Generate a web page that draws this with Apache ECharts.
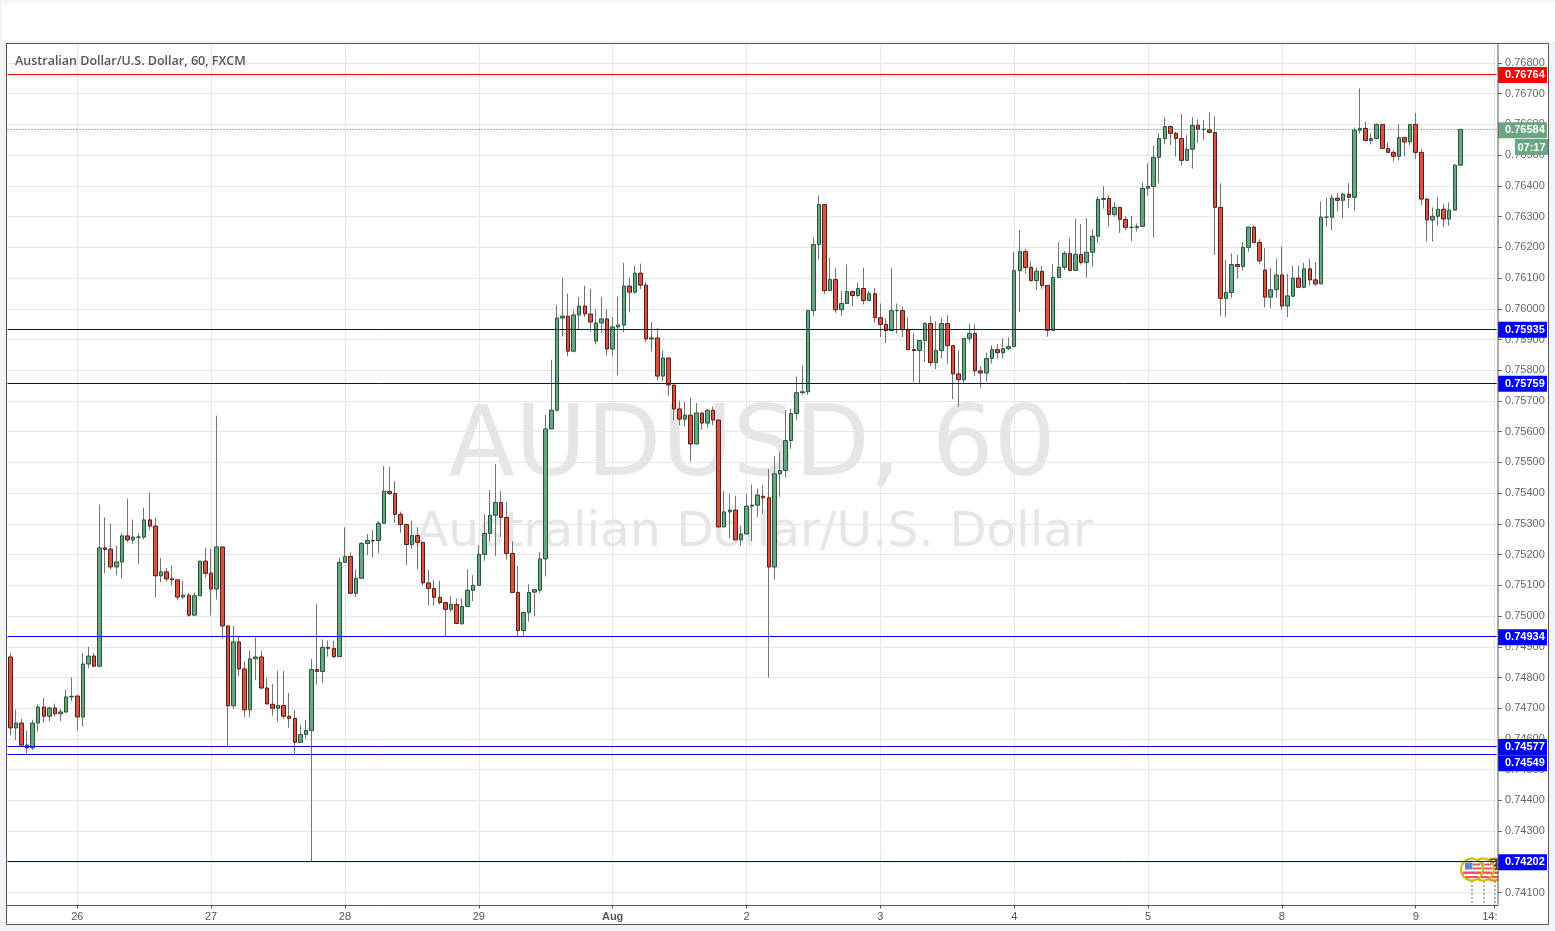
<!DOCTYPE html>
<html>
<head>
<meta charset="utf-8">
<style>html,body{margin:0;padding:0;background:#f1f5f8}#c{width:1555px;height:931px}</style>
<script src="https://cdn.jsdelivr.net/npm/echarts@6/dist/echarts.min.js"></script>
</head>
<body>
<div id="c"></div>
<script>
// prices in units of 0.00001
const opens = [74867,74636,74652,74580,74571,74652,74704,74674,74701,74682,74688,74737,74740,74672,74844,74870,74837,75222,75218,75160,
75176,75261,75248,75257,75257,75313,75293,75131,75144,75121,75118,75062,75068,75003,75066,75179,75140,75088,75225,74968,
74708,74916,74828,74695,74861,74867,74766,74713,74700,74709,74674,74667,74589,74615,74628,74826,74820,74898,74895,74868,
75175,75194,75074,75123,75236,75246,75246,75302,75406,75399,75331,75298,75233,75262,75240,75108,75090,75061,75044,75022,
75038,74975,75031,75084,75100,75201,75269,75328,75370,75321,75204,75077,74953,75012,75078,75084,75186,75609,75670,75970,
75976,75862,75980,76009,75983,75895,75954,75967,75869,75941,75947,76074,76054,76116,76077,75902,75905,75781,75840,75752,
75674,75641,75654,75560,75661,75628,75670,75638,75290,75339,75345,75248,75267,75358,75361,75390,75385,75160,75463,75474,
75571,75659,75727,75730,75994,76209,76339,76059,76095,75997,76017,76056,76043,76066,76027,76049,75971,75949,75929,75994,
75994,75932,75867,75864,75897,75952,75825,75864,75952,75880,75788,75769,75904,75920,75798,75791,75838,75867,75857,75870,
75877,76124,76186,76135,76092,76122,76076,75930,76102,76135,76180,76125,76177,76151,76184,76236,76356,76359,76307,76330,
76291,76265,76265,76268,76392,76398,76493,76554,76593,76571,76554,76483,76519,76597,76584,76582,76574,76330,76034,76053,
76144,76138,76200,76266,76216,76126,76038,76062,76110,76009,76041,76100,76070,76130,76094,76081,76298,76298,76360,76353,
76373,76363,76581,76587,76548,76554,76600,76522,76509,76496,76557,76543,76600,76509,76357,76289,76301,76324,76292,76321,
76467];
const highs = [74880,74696,74665,74627,74663,74712,74734,74705,74715,74698,74761,74800,74740,74880,74900,74880,75363,75321,75301,75229,
75270,75382,75314,75270,75353,75402,75320,75189,75157,75164,75118,75115,75075,75077,75179,75223,75220,75652,75225,74968,
74969,74936,74852,74888,74930,74888,74797,74779,74821,74821,74750,74693,74645,74662,74860,75039,74924,74920,74920,75189,
75289,75207,75152,75241,75267,75280,75309,75488,75485,75439,75340,75298,75310,75289,75240,75150,75117,75114,75044,75065,
75057,75057,75152,75133,75231,75332,75410,75495,75407,75370,75243,75163,75012,75104,75086,75208,75655,75834,76013,76101,
76049,75995,76039,76075,76065,75999,76039,75999,75973,76039,76150,76101,76140,76147,76088,75957,75938,75864,75840,75752,
75701,75697,75710,75693,75661,75674,75682,75638,75408,75398,75392,75294,75398,75428,75415,75426,75478,75520,75533,75670,
75675,75780,75816,75994,76232,76369,76339,76167,76134,76058,76144,76056,76085,76134,76058,76068,76017,75968,76134,76017,
76008,75972,75922,75897,75957,75976,75959,75969,75979,75880,75864,75904,75952,75949,75813,75857,75881,75886,75904,75907,
76184,76256,76196,76154,76135,76139,76076,76146,76217,76188,76230,76292,76276,76296,76258,76366,76399,76370,76347,76330,
76301,76302,76278,76411,76473,76532,76571,76623,76593,76576,76634,76565,76623,76617,76614,76639,76627,76408,76159,76180,
76175,76217,76266,76270,76227,76198,76133,76163,76203,76113,76140,76140,76149,76161,76152,76348,76362,76370,76376,76378,
76410,76590,76717,76610,76570,76603,76600,76541,76516,76600,76560,76600,76638,76519,76360,76330,76364,76341,76346,76471,
76584];
const lows = [74612,74596,74574,74552,74563,74625,74654,74658,74674,74658,74684,74723,74628,74641,74830,74833,74833,75139,75152,75133,
75123,75240,75234,75169,75250,75281,75061,75110,75113,75100,75051,75055,74998,75003,75066,75125,75002,75054,74926,74576,
74697,74804,74671,74671,74791,74762,74714,74676,74656,74666,74637,74551,74589,74601,74202,74777,74783,74868,74864,74868,
75175,75074,75062,75123,75198,75190,75205,75302,75394,75304,75271,75166,75219,75153,75099,75034,75034,75038,74933,75014,
74976,74972,75031,75049,75100,75180,75240,75196,75258,75184,75077,74931,74931,74982,75000,75075,75129,75609,75666,75910,
75845,75858,75934,75973,75924,75884,75921,75847,75845,75783,75923,75988,76049,76064,75891,75861,75767,75764,75716,75637,
75621,75617,75503,75560,75606,75612,75621,75290,75290,75254,75248,75229,75267,75245,75323,75334,74800,75118,75388,75450,
75544,75638,75722,75720,75977,76161,76048,76059,75987,75977,76017,76009,76039,76014,76027,75955,75908,75889,75929,75919,
75908,75867,75762,75757,75827,75814,75804,75838,75821,75706,75681,75757,75892,75782,75743,75762,75822,75838,75838,75865,
75877,75989,76115,76088,76061,76065,75909,75930,76102,76126,76125,76125,76144,76101,76137,76215,76326,76267,76300,76247,
76256,76221,76251,76268,76368,76231,76408,76535,76533,76495,76466,76483,76456,76540,76549,76571,76175,75977,75974,76036,
76097,76124,76186,76216,76145,76005,76002,76035,75996,75973,76038,76068,76067,76074,76074,76081,76268,76255,76317,76294,
76327,76320,76570,76548,76535,76554,76519,76509,76479,76483,76496,76532,76488,76338,76219,76219,76271,76265,76271,76321,
76467];
const closes = [74636,74652,74580,74571,74652,74704,74674,74701,74682,74688,74737,74739,74672,74844,74870,74837,75222,75217,75160,75176,
75261,75248,75257,75257,75313,75293,75131,75144,75121,75118,75062,75068,75003,75066,75179,75139,75088,75225,74968,74708,
74916,74828,74695,74861,74867,74766,74714,74700,74709,74674,74667,74589,74615,74628,74826,74820,74898,74895,74868,75175,
75194,75074,75123,75236,75246,75245,75302,75406,75399,75331,75298,75233,75262,75240,75108,75090,75061,75044,75022,75038,
74976,75031,75084,75100,75201,75269,75328,75370,75321,75204,75077,74953,75012,75077,75086,75186,75609,75670,75970,75976,
75862,75980,76009,75983,75957,75954,75967,75869,75941,75947,76074,76054,76116,76077,75902,75905,75781,75840,75752,75674,
75641,75654,75560,75661,75628,75670,75638,75290,75339,75345,75248,75267,75358,75361,75394,75385,75160,75463,75474,75571,
75659,75727,75730,75994,76209,76339,76059,76095,75997,76017,76056,76043,76066,76027,76049,75971,75949,75929,75994,75994,
75932,75867,75864,75897,75952,75825,75864,75952,75880,75788,75769,75904,75920,75798,75791,75838,75867,75857,75870,75877,
76124,76186,76134,76092,76122,76076,75930,76102,76135,76180,76125,76177,76151,76184,76236,76356,76359,76307,76330,76291,
76265,76265,76268,76392,76398,76493,76554,76593,76571,76554,76483,76519,76597,76584,76584,76574,76330,76034,76053,76144,
76138,76200,76266,76216,76156,76038,76062,76110,76009,76042,76100,76070,76130,76094,76081,76298,76298,76360,76353,76373,
76363,76581,76587,76548,76554,76600,76522,76509,76496,76557,76543,76600,76509,76357,76289,76301,76324,76292,76321,76467,
76584];
const tickIndices = [12,36,60,84,108,132,156,180,204,228,252,266];
const tickLabels = ['26','27','28','29','Aug','2','3','4','5','8','9','14:'];
const priceTicks = [0.741,0.742,0.743,0.744,0.745,0.746,0.747,0.748,0.749,0.750,0.751,0.752,0.753,0.754,0.755,0.756,0.757,0.758,0.759,0.760,0.761,0.762,0.763,0.764,0.765,0.766,0.767,0.768];
const levels = [0.76764,0.76584,0.75935,0.75759,0.74934,0.74577,0.74549,0.74202];
const levelTags = ['0.76764','0.76584','0.75935','0.75759','0.74934','0.74577','0.74549','0.74202'];
const countdown = '07:17';

const levelLine = ['#ff0000','#2f7a55','#0000cc','#0000cc','#0000ff','#0000ff','#0000ff','#0000cc'];
const levelFill = ['#ff0000','#6ba583','#0000ff','#0000ff','#0000ff','#0000ff','#0000ff','#0000ff'];
const tagShift = [1,1,1,1,1,1,8.5,1];

const slotCount = 267;
const categories = new Array(slotCount).fill('');
tickIndices.forEach((ix, k) => { categories[ix] = tickLabels[k]; });
const P = v => v / 100000;
const wicks = opens.map((o, i) => [P(o), P(closes[i]), P(lows[i]), P(highs[i])]);
const bodies = opens.map((o, i) => [P(o), P(closes[i]), P(Math.min(o, closes[i])), P(Math.max(o, closes[i]))]);

function flag(cx, cy, ring, z) {
  return { type: 'group', x: cx, y: cy, z: z, silent: true, children: [
    { type: 'circle', z: z, shape: { cx: 0, cy: 0, r: 11 }, style: { fill: '#fff', stroke: ring, lineWidth: 2 } },
    { type: 'rect', z: z, shape: { x: -7, y: -7, width: 7.5, height: 7 }, style: { fill: '#5b86c8' } },
    { type: 'rect', z: z, shape: { x: 1, y: -6, width: 7, height: 2 }, style: { fill: '#e8575f' } },
    { type: 'rect', z: z, shape: { x: 1, y: -2, width: 8.5, height: 2 }, style: { fill: '#e8575f' } },
    { type: 'rect', z: z, shape: { x: -9, y: 2, width: 18, height: 2.5 }, style: { fill: '#e8575f' } },
    { type: 'rect', z: z, shape: { x: -6.5, y: 6.5, width: 13, height: 2.2 }, style: { fill: '#e8575f' } }
  ]};
}
function dots(x) {
  return { type: 'line', z: 4, silent: true, shape: { x1: x, y1: 881, x2: x, y2: 905 }, style: { stroke: '#999', lineWidth: 1.5, lineDash: [2, 2] } };
}

const option = {
  animation: false,
  backgroundColor: '#f1f5f8',
  title: { text: 'Australian Dollar/U.S. Dollar, 60, FXCM', left: 15, top: 54.5, padding: 0,
    textStyle: { fontFamily: 'Open Sans', fontWeight: 600, fontSize: 12.5, color: '#555' } },
  grid: { left: 7.54, top: 43.5, width: 1489.06, height: 862, containLabel: false },
  xAxis: {
    type: 'category', data: categories, boundaryGap: true,
    axisLine: { show: false },
    axisTick: { show: true, alignWithLabel: true, length: 3, interval: (i, v) => v !== '', lineStyle: { color: '#555' } },
    axisLabel: { interval: (i, v) => v !== '', margin: 5.5, fontFamily: 'Liberation Sans', fontSize: 11, color: '#555', hideOverlap: false,
      formatter: v => v === '14:' ? '{e|14:}' : (v === 'Aug' ? '{b|Aug}' : v),
      rich: {
        e: { padding: [0, 8, 0, 0], fontFamily: 'Liberation Sans', fontSize: 11, color: '#555' },
        b: { fontFamily: 'Liberation Sans', fontWeight: 'bold', fontSize: 11, color: '#555' }
      } },
    splitLine: { show: true, alignWithLabel: true, interval: (i, v) => v !== '', lineStyle: { color: '#e6e6e6', width: 1 } }
  },
  yAxis: {
    type: 'value', position: 'right', scale: true, offset: 1.4,
    min: 0.740582, max: 0.768633,
    axisLine: { show: false },
    axisTick: { show: true, length: 4, customValues: priceTicks, lineStyle: { color: '#666' } },
    axisLabel: { margin: 7, fontFamily: 'Liberation Sans', fontSize: 11, color: '#666', customValues: priceTicks, padding: [3, 0, 0, 0],
      formatter: v => v.toFixed(5) },
    splitLine: { show: true, lineStyle: { color: '#e6e6e6', width: 1 } }
  },
  series: [
    { type: 'candlestick', name: 'wick', z: 2, barWidth: 1, data: wicks, silent: true,
      itemStyle: { color: '#737375', color0: '#737375', borderColor: '#737375', borderColor0: '#737375', borderWidth: 1 } },
    { type: 'candlestick', name: 'body', z: 3, barWidth: 4, data: bodies, silent: true,
      itemStyle: { color: '#6ba583', color0: '#d75442', borderColor: '#225437', borderColor0: '#5b1a13', borderWidth: 1 },
      markLine: {
        silent: true, symbol: 'none', animation: false, precision: 5,
        data: levels.map((v, i) => ({
          yAxis: v,
          lineStyle: { color: levelLine[i], width: 1, type: i === 1 ? [1, 2] : 'solid' },
          label: { show: true, position: 'end', distance: 1.4, formatter: levelTags[i], color: '#fff',
            fontFamily: 'Liberation Sans', fontWeight: 'bold', fontSize: 11, backgroundColor: levelFill[i],
            padding: [3, 3, 2, 7], width: 39, height: 11, lineHeight: 11, align: 'left', offset: [0, tagShift[i]] }
        }))
      }
    }
  ],
  graphic: { elements: [
    { type: 'rect', z: -10, silent: true, shape: { x: 2, y: 3, width: 1553, height: 38 }, style: { fill: '#fff' } },
    { type: 'rect', z: -10, silent: true, shape: { x: 6.5, y: 43.5, width: 1542, height: 881 }, style: { fill: '#fff', stroke: '#555', lineWidth: 1 } },
    { type: 'text', z: -5, silent: true, x: 752, y: 450, style: { text: 'AUDUSD, 60', fontFamily: 'DejaVu Sans', fontSize: 97.5, fill: '#e6e6e6', align: 'center', verticalAlign: 'middle' } },
    { type: 'text', z: -5, silent: true, x: 754, y: 533, style: { text: 'Australian Dollar/U.S. Dollar', fontFamily: 'DejaVu Sans', fontSize: 48.6, fill: '#e6e6e6', align: 'center', verticalAlign: 'middle' } },
    dots(1495), dots(1484), dots(1472),
    flag(1494, 869.5, '#e08a00', 4),
    { type: 'rect', z: 4, silent: true, shape: { x: 1489, y: 859, width: 8.5, height: 11 }, style: { fill: '#444' } },
    { type: 'text', z: 4, silent: true, x: 1493.2, y: 865, style: { text: '2', fontFamily: 'Liberation Sans', fontWeight: 'bold', fontSize: 10, fill: '#fff', align: 'center', verticalAlign: 'middle' } },
    flag(1483, 869.5, '#d4b800', 4.1),
    flag(1472, 869.5, '#d4b800', 4.2),
    { type: 'rect', z: 4.5, silent: true, shape: { x: 1498.5, y: 860, width: 49, height: 22 }, style: { fill: '#fff' } },
    { type: 'rect', z: 4.5, silent: true, shape: { x: 1498.5, y: 906, width: 49, height: 18 }, style: { fill: '#fff' } },
    { type: 'rect', z: 8, silent: true, shape: { x: 6.5, y: 43.5, width: 1491.5, height: 862 }, style: { fill: 'none', stroke: '#555', lineWidth: 1 } },
    { type: 'rect', z: 8, silent: true, shape: { x: 1515, y: 139, width: 33, height: 16 }, style: { fill: '#6ba583' } },
    { type: 'text', z: 8, silent: true, x: 1531.5, y: 147.5, style: { text: countdown, fontFamily: 'Liberation Sans', fontWeight: 'bold', fontSize: 11, fill: '#fff', align: 'center', verticalAlign: 'middle' } }
  ] }
};
const chart = echarts.init(document.getElementById('c'), null, { renderer: 'canvas' });
chart.setOption(option);
</script>
</body>
</html>
